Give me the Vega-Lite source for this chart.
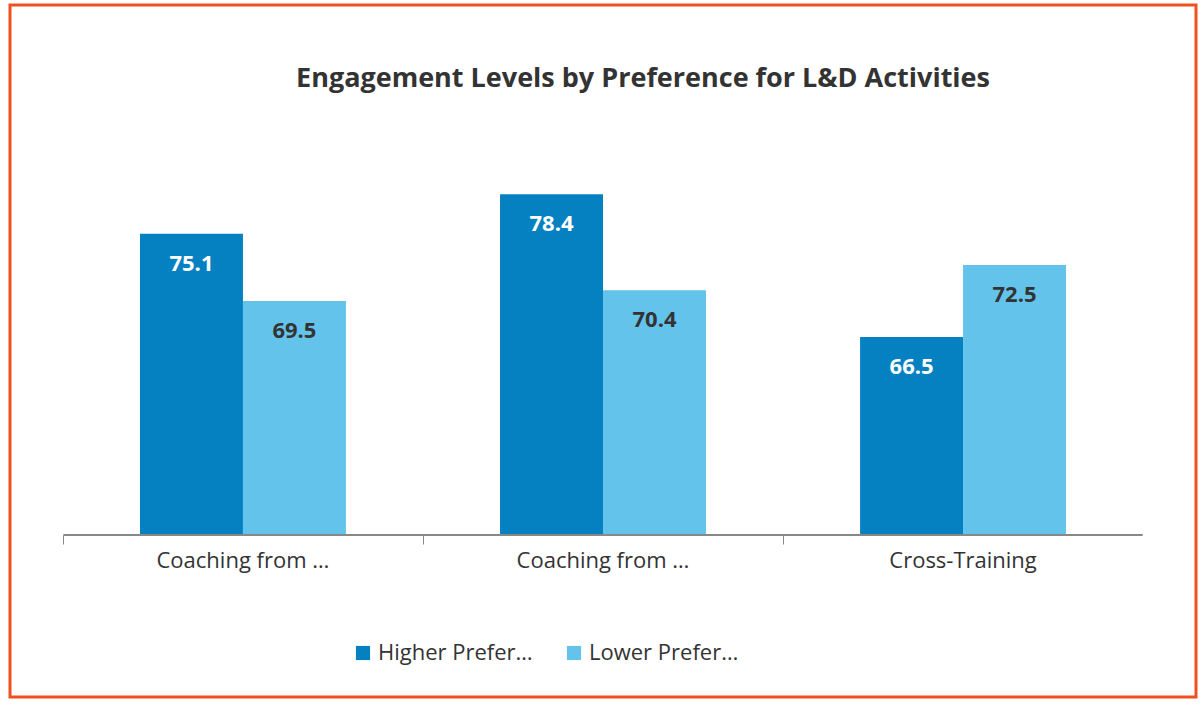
{
  "$schema": "https://vega.github.io/schema/vega-lite/v6.json",
  "width": 1186,
  "height": 692,
  "autosize": "none",
  "padding": {"left": 10, "top": 5, "right": 8, "bottom": 8},
  "background": "white",
  "config": {
    "font": "Open Sans",
    "view": {"stroke": "#F0501E", "strokeWidth": 3}
  },
  "title": {
    "text": "Engagement Levels by Preference for L&D Activities",
    "fontSize": 27,
    "fontWeight": "bold",
    "color": "#333333",
    "anchor": "middle",
    "dx": 40,
    "offset": -88,
    "font": "Open Sans"
  },
  "data": {
    "values": [
      {"activity": "Coaching from Manager", "group": "Higher Preference", "value": 75.1},
      {"activity": "Coaching from Manager", "group": "Lower Preference", "value": 69.5},
      {"activity": "Coaching from Peer", "group": "Higher Preference", "value": 78.4},
      {"activity": "Coaching from Peer", "group": "Lower Preference", "value": 70.4},
      {"activity": "Cross-Training", "group": "Higher Preference", "value": 66.5},
      {"activity": "Cross-Training", "group": "Lower Preference", "value": 72.5}
    ]
  },
  "encoding": {
    "x": {
      "field": "activity",
      "type": "nominal",
      "sort": null,
      "title": null,
      "scale": {"paddingInner": 0.428, "paddingOuter": 0.361},
      "axis": {
        "offset": -162,
        "domain": false,
        "ticks": true,
        "tickSize": 9,
        "tickColor": "#888888",
        "bandPosition": -0.37,
        "labelAngle": 0,
        "labelFontSize": 22,
        "labelColor": "#333333",
        "labelPadding": 6
      }
    }
  },
  "layer": [
    {
      "mark": {"type": "bar"},
      "encoding": {
        "xOffset": {"field": "group", "type": "nominal"},
        "y": {"field": "value", "type": "quantitative", "scale": {"domain": [36.5, 94.17], "nice": false, "zero": false}, "axis": null},
        "y2": {"datum": 50},
        "color": {
          "field": "group",
          "type": "nominal",
          "scale": {"domain": ["Higher Preference", "Lower Preference"], "range": ["#0581C1", "#63C3EA"]},
          "legend": {
            "title": null,
            "orient": "none",
            "legendX": 342,
            "legendY": 637,
            "direction": "horizontal",
            "symbolType": "square",
            "symbolSize": 200,
            "labelFontSize": 22,
            "labelColor": "#333333",
            "columnPadding": 30
          }
        }
      }
    },
    {
      "mark": {"type": "text", "dy": 30, "baseline": "middle", "fontSize": 22, "fontWeight": "bold"},
      "encoding": {
        "xOffset": {"field": "group", "type": "nominal"},
        "y": {"field": "value", "type": "quantitative"},
        "text": {"field": "value", "type": "quantitative", "format": ".1f"},
        "color": {
          "condition": {"test": "datum.group == 'Higher Preference'", "value": "white"},
          "value": "#333333"
        }
      }
    },
    {
      "mark": {"type": "text", "dy": 30, "baseline": "middle", "fontSize": 22, "fontWeight": "bold"},
      "transform": [{"calculate": "format(datum.value, '.1f') + '%'", "as": "label"}],
      "encoding": {
        "xOffset": {"field": "group", "type": "nominal"},
        "y": {"field": "value", "type": "quantitative"},
        "text": {"field": "label"},
        "opacity": {"value": 0}
      }
    },
    {
      "mark": {"type": "rule", "color": "#888888", "strokeWidth": 1.5},
      "encoding": {
        "x": {"datum": "Coaching from Manager", "bandPosition": -0.37},
        "x2": {"datum": "Cross-Training", "bandPosition": 1.37},
        "y": {"datum": 50}
      }
    }
  ]
}
